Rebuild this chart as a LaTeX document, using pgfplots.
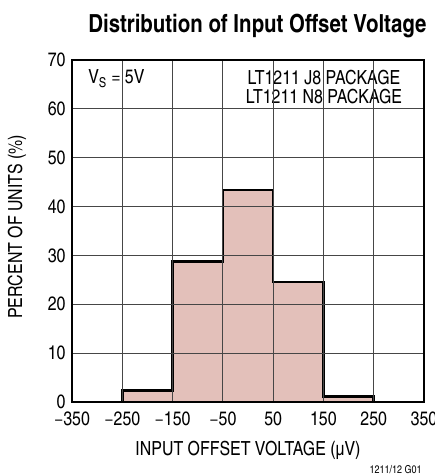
\documentclass[border=0pt]{standalone}
\usepackage{fontspec}
\setmainfont{TeX Gyre Heros Cn}
\usepackage{pgfplots}
\pgfplotsset{compat=1.18}
\definecolor{barfill}{RGB}{227,192,186}
\definecolor{gridc}{RGB}{70,70,70}
\begin{document}
\begin{tikzpicture}
\begin{axis}[
  name=ax,
  scale only axis,
  clip=false,
  width=352bp, height=342bp,
  xmin=-350, xmax=350, ymin=0, ymax=70,
  xtick={-350,-250,-150,-50,50,150,250,350},
  xticklabels={−350,−250,−150,−50,50,150,250,350},
  ytick={0,10,...,70},
  grid=major,
  major grid style={gridc, line width=0.8bp},
  axis line style={black, line width=1.3bp},
  tick style={draw=none},
  axis on top,
  /pgf/number format/assume math mode=true,
  ticklabel style={font=\fontsize{19.5}{22}\selectfont},
  xticklabel style={yshift=-6bp},
  yticklabel style={xshift=-3bp},
  xlabel={INPUT OFFSET VOLTAGE (µV)},
  ylabel={PERCENT OF UNITS (\%)},
  label style={font=\fontsize{19.5}{22}\selectfont},
  xlabel style={at={(axis description cs:0.5,-0.155)}, anchor=base},
  ylabel style={at={(axis description cs:-0.156,0.512)}, anchor=center},
]
\addplot[ybar interval, fill=barfill, draw=none] coordinates {
  (-250,2.3) (-150,28.7) (-50,43.4) (50,24.6) (150,1.1) (250,1.1)
};
\addplot[const plot, black, line width=2.6bp, line join=miter] coordinates {
  (-250,0) (-250,2.3) (-150,28.7) (-50,43.4) (50,24.6) (150,1.1) (250,1.1) (250,0)
};
\node[anchor=base west, font=\fontsize{19.5}{22}\selectfont, inner sep=0pt] at (axis cs:-318,65.1) {V\textsubscript{S} = 5V};
\node[anchor=base, fill=white, inner xsep=3bp, inner ysep=1bp, text height=14bp, text depth=1.5bp,
      font=\fontsize{19.5}{22}\selectfont] at (axis cs:151,64.9) {LT1211 J8 PACKAGE};
\node[anchor=base, fill=white, inner xsep=8bp, inner ysep=2bp, text height=14bp, text depth=6bp,
      font=\fontsize{19.5}{22}\selectfont] at (axis cs:151,61.0) {LT1211 N8 PACKAGE};
\node[anchor=base, font=\bfseries\fontsize{25}{29}\selectfont] at (axis description cs:0.527,1.079) {Distribution of Input Offset Voltage};
\node[anchor=base east, font=\fontsize{11}{13}\selectfont, inner sep=0pt] at (axis description cs:0.994,-0.208) {1211/12 G01};
\end{axis}
\pgfresetboundingbox
\path ([xshift=-72bp,yshift=-74bp]ax.south west) rectangle ([xshift=11bp,yshift=60bp]ax.north east);
\end{tikzpicture}
\end{document}
